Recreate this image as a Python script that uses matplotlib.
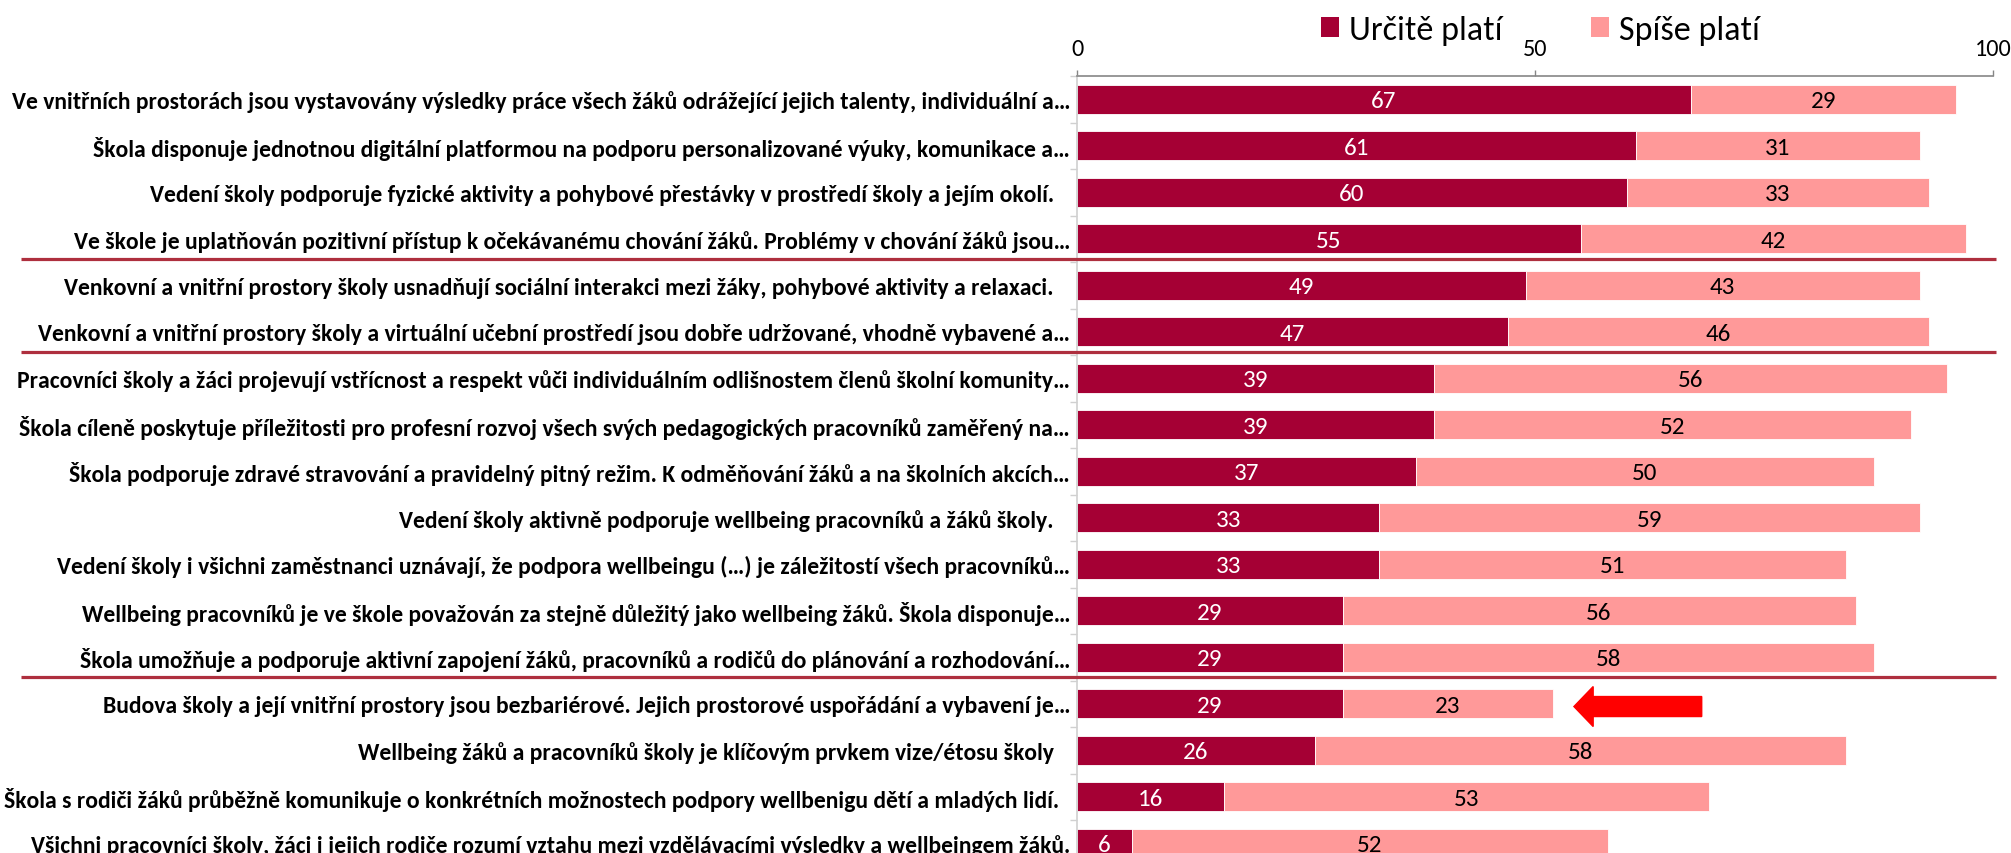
import matplotlib
matplotlib.use("Agg")
import matplotlib.pyplot as plt
import numpy as np
from matplotlib.patches import Patch, FancyArrow
from matplotlib.lines import Line2D
import matplotlib.transforms as mtransforms

# ---------------- data ----------------
categories = [
    "Ve vnitřních prostorách jsou vystavovány výsledky práce všech žáků odrážející jejich talenty, individuální a…",
    "Škola disponuje jednotnou digitální platformou na podporu personalizované výuky, komunikace a…",
    "Vedení školy podporuje fyzické aktivity a pohybové přestávky v prostředí školy a jejím okolí.   ",
    "Ve škole je uplatňován pozitivní přístup k očekávanému chování žáků. Problémy v chování žáků jsou…",
    "Venkovní a vnitřní prostory školy usnadňují sociální interakci mezi žáky, pohybové aktivity a relaxaci.   ",
    "Venkovní a vnitřní prostory školy a virtuální učební prostředí jsou dobře udržované, vhodně vybavené a…",
    "Pracovníci školy a žáci projevují vstřícnost a respekt vůči individuálním odlišnostem členů školní komunity…",
    "Škola cíleně poskytuje příležitosti pro profesní rozvoj všech svých pedagogických pracovníků zaměřený na…",
    "Škola podporuje zdravé stravování a pravidelný pitný režim. K odměňování žáků a na školních akcích…",
    "Vedení školy aktivně podporuje wellbeing pracovníků a žáků školy.   ",
    "Vedení školy i všichni zaměstnanci uznávají, že podpora wellbeingu (…) je záležitostí všech pracovníků…",
    "Wellbeing pracovníků je ve škole považován za stejně důležitý jako wellbeing žáků. Škola disponuje…",
    "Škola umožňuje a podporuje aktivní zapojení žáků, pracovníků a rodičů do plánování a rozhodování…",
    "Budova školy a její vnitřní prostory jsou bezbariérové. Jejich prostorové uspořádání a vybavení je…",
    "Wellbeing žáků a pracovníků školy je klíčovým prvkem vize/étosu školy   ",
    "Škola s rodiči žáků průběžně komunikuje o konkrétních možnostech podpory wellbenigu dětí a mladých lidí.  ",
    "Všichni pracovníci školy, žáci i jejich rodiče rozumí vztahu mezi vzdělávacími výsledky a wellbeingem žáků.",
]
urcite_plati = [67, 61, 60, 55, 49, 47, 39, 39, 37, 33, 33, 29, 29, 29, 26, 16, 6]
spise_plati = [29, 31, 33, 42, 43, 46, 56, 52, 50, 59, 51, 56, 58, 23, 58, 53, 52]
series_names = ["Určitě platí", "Spíše platí"]
x_ticks = [0, 50, 100]
separators_after = [3, 5, 12]      # group separator lines below these rows
highlight_row = 13                  # row marked with the red arrow

# ---------------- style ----------------
DARK = "#A50034"
LIGHT = "#FF9999"
SEP = "#AE2F3E"
AXISC = "#868686"
FONT = ["Carlito", "DejaVu Sans"]

W, H, DPI = 2011, 854, 100
fig = plt.figure(figsize=(W / DPI, H / DPI), dpi=DPI)

n = len(categories)
left_px, right_px, top_px, pitch = 1077, 1993, 77, 46.5
ax = fig.add_axes([left_px / W, 1 - (top_px + n * pitch) / H,
                   (right_px - left_px) / W, n * pitch / H])

y = np.arange(n)
bh = 0.62
ax.barh(y, urcite_plati, height=bh, color=DARK, edgecolor="white", linewidth=0.6)
ax.barh(y, spise_plati, left=urcite_plati, height=bh, color=LIGHT, edgecolor="white", linewidth=0.6)

for i in range(n):
    a, b = urcite_plati[i], spise_plati[i]
    ax.text(a / 2, i + 0.03, str(a), ha="center", va="center", color="white",
            fontsize=18, family=FONT)
    ax.text(a + b / 2, i + 0.03, str(b), ha="center", va="center", color="black",
            fontsize=18, family=FONT)

ax.set_xlim(0, 100)
ax.set_ylim(n - 0.5, -0.5)

# x axis on top
ax.xaxis.tick_top()
ax.set_xticks(x_ticks)
ax.set_xticklabels([str(t) for t in x_ticks], family=FONT, fontsize=17.5)
ax.tick_params(axis="x", which="major", direction="out", length=4.3, width=1,
               color=AXISC, pad=8)

# y axis
ax.set_yticks(y)
ax.set_yticks(np.arange(-0.5, n, 1.0), minor=True)
ax.tick_params(axis="y", which="major", length=0, pad=5)
ax.tick_params(axis="y", which="minor", length=5, width=1, color="#D0D0D0", direction="out")

for s in ["right", "bottom"]:
    ax.spines[s].set_visible(False)
ax.spines["top"].set_color(AXISC)
ax.spines["top"].set_linewidth(1.2)
ax.spines["left"].set_color("#D0D0D0")
ax.spines["left"].set_linewidth(1.2)

# fit label font size so the longest label fits in the left area
fs0 = 17
ax.set_yticklabels(categories, family=FONT, fontweight="bold", fontsize=fs0)
fig.canvas.draw()
r = fig.canvas.get_renderer()
maxw = max(t.get_window_extent(r).width for t in ax.get_yticklabels())
fs = fs0 * (1064 / maxw)
ax.set_yticklabels(categories, family=FONT, fontweight="bold", fontsize=fs)

# group separator lines (span the full width of the figure)
trans = mtransforms.blended_transform_factory(fig.transFigure, ax.transData)
for s in separators_after:
    yy = s + 0.5 - 0.07
    fig.add_artist(Line2D([21 / W, 1996 / W], [yy, yy], transform=trans,
                          color=SEP, linewidth=2.3, solid_capstyle="butt"))

# red arrow pointing at highlighted row
ax.add_patch(FancyArrow(68.2, highlight_row + 0.06, -13.95, 0, width=0.43,
                        head_width=0.86, head_length=2.1,
                        length_includes_head=True, color="#FF0000", clip_on=False))

# legend
handles = [Patch(facecolor=DARK, edgecolor="none"), Patch(facecolor=LIGHT, edgecolor="none")]
leg = fig.legend(handles, series_names, loc="center left",
                 bbox_to_anchor=(1321 / W, 1 - 31 / H), ncol=2, frameon=False,
                 prop={"family": FONT, "size": 24.5}, handlelength=0.54,
                 handleheight=0.54, handletextpad=0.28, columnspacing=2.6,
                 borderpad=0, borderaxespad=0)

fig.savefig("out.png", dpi=DPI)
